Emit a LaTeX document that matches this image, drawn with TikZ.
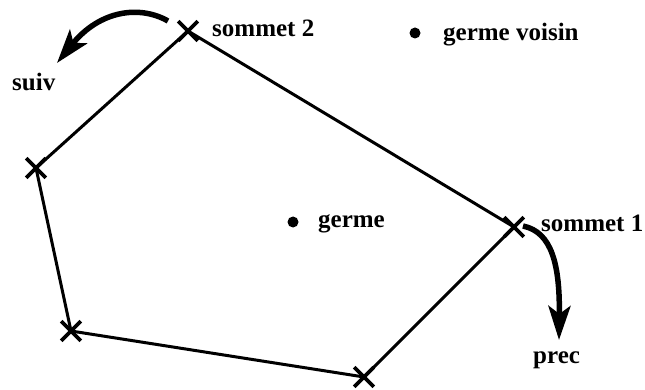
\documentclass[tikz,border=0pt]{standalone}
\usepackage{fontspec}
\setmainfont{Liberation Serif}
\usetikzlibrary{shapes.misc,arrows.meta}
\begin{document}
\begin{tikzpicture}[x=1pt,y=-1pt,
  vtx/.style={cross out,draw,line width=3.6pt,minimum size=16pt,inner sep=0pt},
  edge/.style={line width=3pt},
  lbl/.style={font=\bfseries\fontsize{25}{28}\selectfont,inner sep=0pt,anchor=base west},
  germ/.style={circle,fill,minimum size=11pt,inner sep=0pt},
  curvearrow/.style={line width=5.5pt,-{Stealth[length=34pt,width=22pt,inset=8pt]}}]
\useasboundingbox (0,0) rectangle (645,390);
\node[vtx] (s2) at (188,31) {};
\node[vtx] (a) at (36,168) {};
\node[vtx] (b) at (71,331) {};
\node[vtx] (c) at (364,377) {};
\node[vtx] (s1) at (514,227) {};
\draw[edge] (s2.center) -- (a.center) -- (b.center) -- (c.center) -- (s1.center) -- (s2.center);
\node[lbl] (t2) at (212,37) {sommet 2};
\node[lbl] (t1) at (541,232) {sommet 1};
\node[germ] (gv) at (415,33) {};
\node[lbl] (tgv) at (443,41) {germe voisin};
\node[germ] (g) at (293,222) {};
\node[lbl] (tg) at (318,228) {germe};
\node[lbl] (ts) at (12,91) {suiv};
\node[lbl] (tp) at (533,363) {prec};
\coordinate (sa) at (168,21);
\coordinate (se) at (57,63);
\draw[curvearrow] (sa) .. controls (140,5) and (100,10) .. (se);
\coordinate (pa) at (523,226);
\coordinate (pe) at (559,340);
\draw[curvearrow] (pa) .. controls (552,232) and (560,265) .. (pe);
\end{tikzpicture}
\end{document}
